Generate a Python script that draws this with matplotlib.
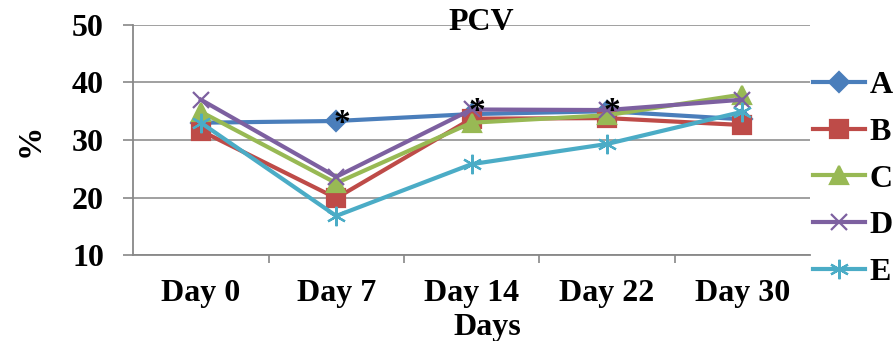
import matplotlib.pyplot as plt
import numpy as np

days = ["Day 0", "Day 7", "Day 14", "Day 22", "Day 30"]
group_a = [33.0, 33.3, 34.5, 35.0, 33.6]
group_b = [31.6, 19.9, 33.7, 33.8, 32.6]
group_c = [34.9, 22.5, 33.0, 34.3, 37.9]
group_d = [37.0, 23.6, 35.3, 35.2, 37.0]
group_e = [33.0, 16.8, 25.8, 29.3, 34.9]
star_days = [1, 2, 3]
star_vals = [34.0, 36.1, 36.1]

plt.rcParams['font.family'] = ['Liberation Serif', 'DejaVu Serif']
plt.rcParams['font.weight'] = 'bold'

fig = plt.figure(figsize=(8.94, 3.41), dpi=100)
ax = fig.add_axes([0.149, 0.252, 0.757, 0.675])

x = np.arange(len(days))
series = [
    ("A", group_a, "#4A7EBB", "D", 10),
    ("B", group_b, "#BE4B48", "s", 13),
    ("C", group_c, "#98B954", "^", 13),
    ("D", group_d, "#7D60A0", "x", 12),
    ("E", group_e, "#4BACC6", (6, 2, 0), 14),
]
for name, vals, col, mk, ms in series:
    ax.plot(x, vals, color=col, lw=3, marker=mk, ms=ms, mew=1.6,
            mfc=col, mec=col, label=name, zorder=3)

# significance stars (glyph sits high in its box, so shift down a bit)
for d, v in zip(star_days, star_vals):
    ax.text(d + 0.04, v - 1.2, "*", ha="center", va="center", fontsize=24,
            fontweight="bold", zorder=4)

ax.set_xlim(-0.5, len(days) - 0.5)
ax.set_ylim(10, 50)
ax.set_yticks([10, 20, 30, 40, 50])
ax.set_xticks(x)
ax.set_xticklabels(days)
ax.set_xticks(np.arange(0.5, len(days) - 0.5, 1), minor=True)
ax.tick_params(axis="x", which="major", length=0, labelsize=23, pad=17.5)
ax.tick_params(axis="x", which="minor", length=6, color="#888888", width=1.2)
ax.tick_params(axis="y", length=7, color="#888888", width=1.2, labelsize=23, pad=14)
ax.grid(axis="y", color="#999999", lw=1.3)
ax.set_axisbelow(True)
for s in ["top", "right"]:
    ax.spines[s].set_visible(False)
for s in ["left", "bottom"]:
    ax.spines[s].set_color("#888888")
    ax.spines[s].set_linewidth(1.3)

fig.text(481 / 894, 1 - 22 / 341, "PCV", ha="center", va="center",
         fontsize=23, fontweight="bold")
fig.text(487 / 894, 1 - 327 / 341, "Days", ha="center", va="center",
         fontsize=23, fontweight="bold")
fig.text(30 / 894, 1 - 140 / 341, "%", ha="center", va="center", rotation=90,
         fontsize=24, fontweight="bold")

fig.legend(loc="upper left", bbox_to_anchor=(0.909, 0.792), frameon=False,
           fontsize=23, handlelength=1.63, labelspacing=0.54, handletextpad=0.15,
           borderpad=0, borderaxespad=0)

fig.savefig("out.png", dpi=100)
